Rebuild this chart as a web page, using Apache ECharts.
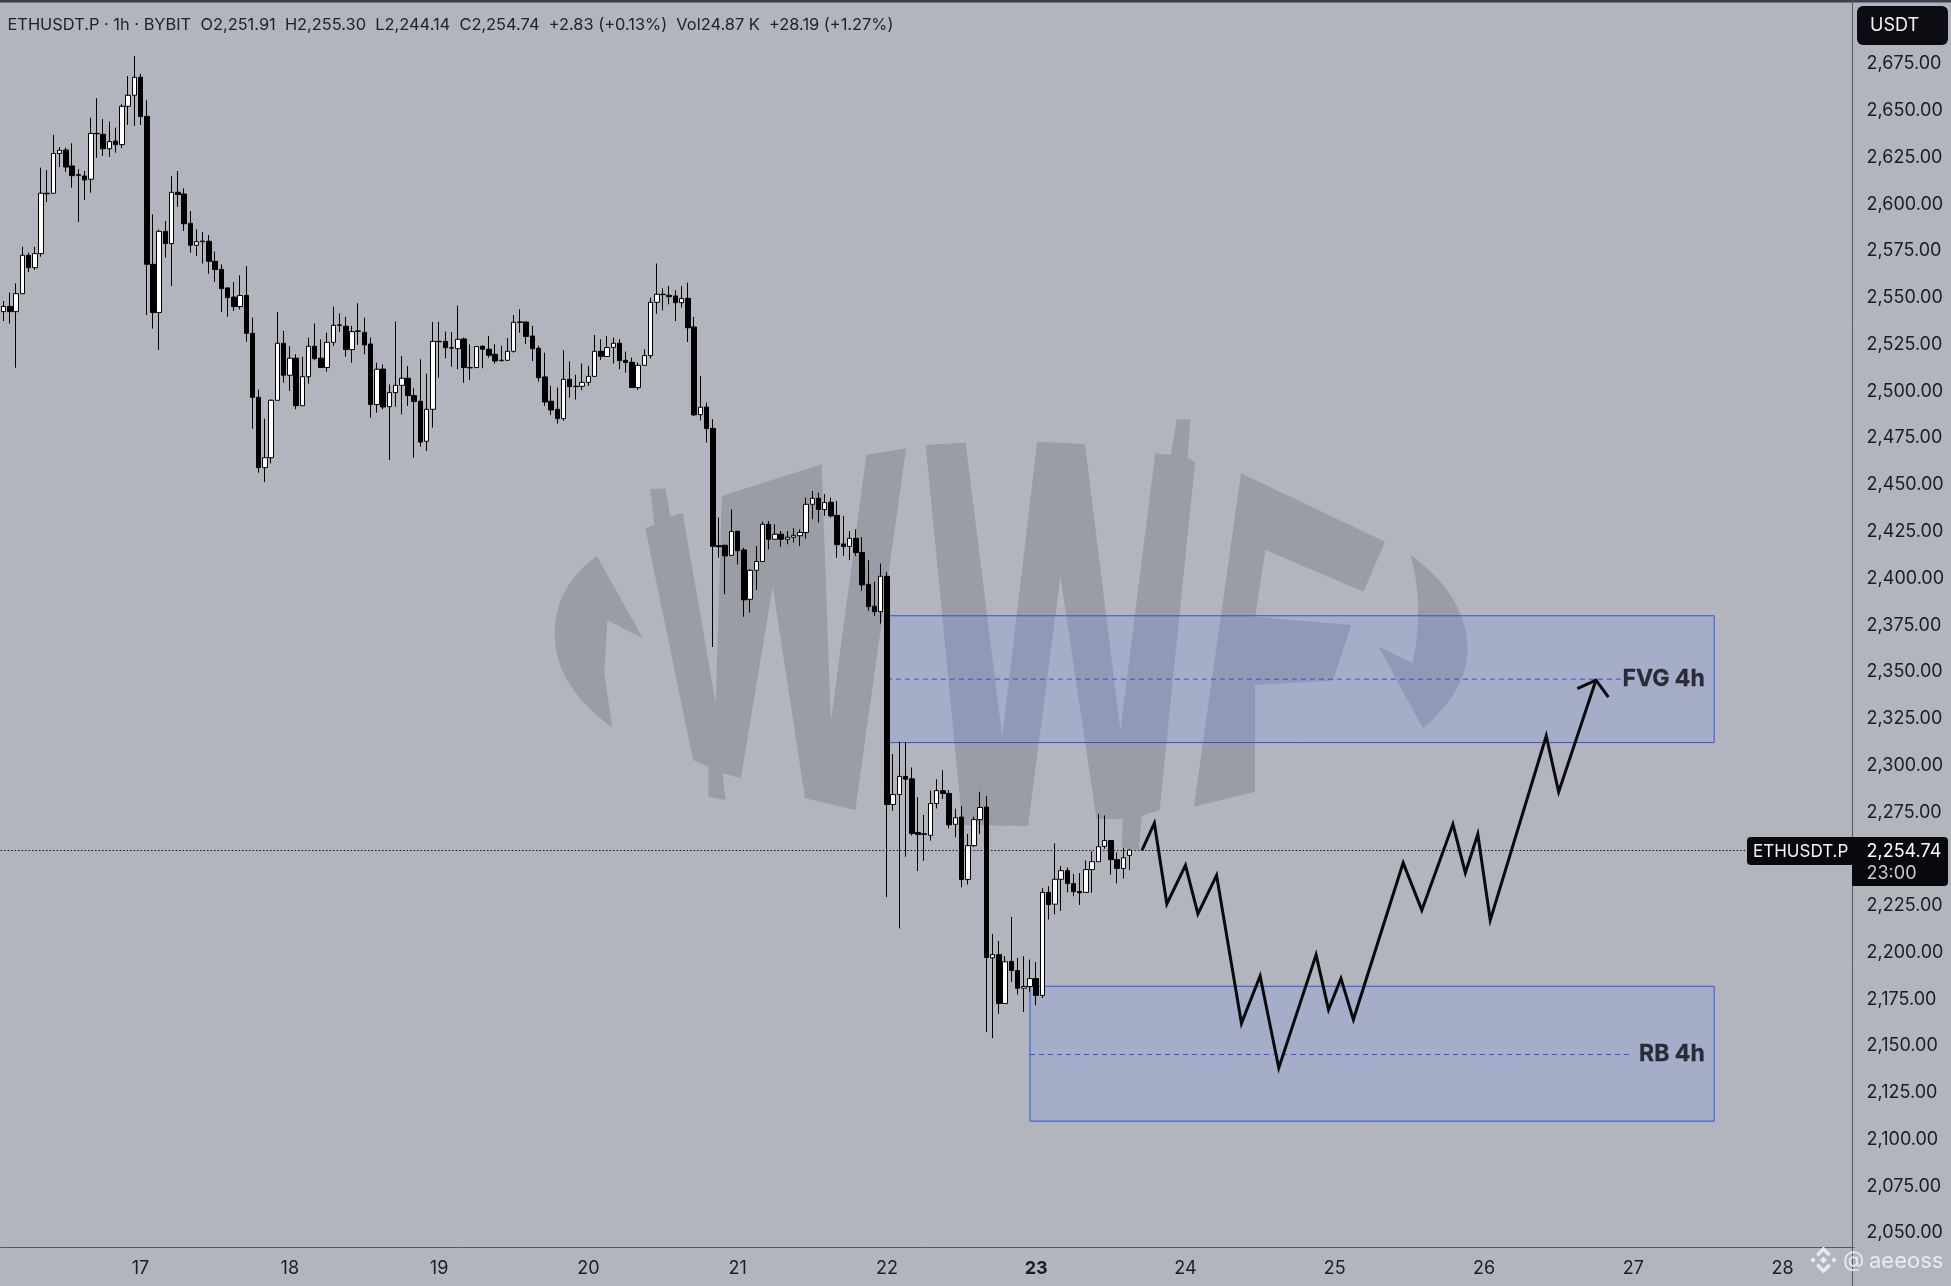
<!DOCTYPE html>
<html><head><meta charset="utf-8">
<style>html,body{margin:0;padding:0;background:#b2b5be}#c{width:1951px;height:1286px}</style>
<script src="https://cdn.jsdelivr.net/npm/echarts@6/dist/echarts.min.js"></script>
</head><body><div id="c"></div>
<script>
const opens=[2542.6,2545.4,2542.6,2552.2,2572.7,2566.1,2573.6,2605.9,2605.9,2627.1,
2629.0,2620.5,2615.8,2615.1,2613.4,2637.9,2637.4,2629.7,2633.8,2631.9,
2652.4,2658.3,2667.9,2647.0,2567.9,2542.1,2585.5,2579.0,2606.4,2605.5,
2589.8,2578.1,2580.3,2580.2,2569.5,2565.2,2555.3,2550.4,2545.3,2551.3,
2531.0,2496.8,2459.2,2464.5,2495.2,2525.7,2508.6,2517.7,2492.3,2507.8,
2524.1,2517.7,2512.7,2526.2,2535.5,2534.8,2522.3,2532.3,2531.5,2525.3,
2492.9,2511.9,2491.8,2499.3,2503.2,2507.0,2497.7,2494.7,2473.3,2490.4,
2526.7,2526.7,2523.3,2522.8,2528.0,2512.7,2512.7,2524.1,2522.5,2519.8,
2516.6,2516.6,2521.4,2537.1,2537.1,2529.6,2523.0,2507.7,2494.7,2490.4,
2485.4,2506.4,2502.7,2502.7,2504.8,2508.0,2521.4,2518.6,2523.5,2525.7,
2516.6,2515.5,2502.0,2513.9,2519.1,2547.6,2551.9,2551.3,2551.0,2547.4,
2549.7,2534.4,2487.5,2491.6,2480.2,2417.5,2417.7,2412.3,2425.2,2415.2,
2388.8,2404.3,2409.0,2428.9,2420.9,2423.6,2420.9,2422.0,2422.8,2424.5,
2439.6,2442.8,2436.8,2440.7,2433.7,2418.4,2417.1,2421.4,2413.8,2396.8,
2385.1,2382.2,2401.1,2279.1,2284.4,2294.1,2292.8,2264.1,2263.4,2262.6,
2279.6,2286.5,2285.0,2268.5,2272.4,2239.0,2257.1,2271.0,2277.7,2197.1,
2198.8,2172.7,2195.2,2190.3,2180.9,2181.8,2186.0,2177.0,2232.1,2225.8,
2239.1,2243.7,2236.8,2232.6,2232.1,2244.3,2248.5,2256.7,2259.8,2249.6,
2244.9,2251.91];
const closes=[2545.4,2542.6,2552.2,2572.7,2566.1,2573.6,2605.9,2605.6,2627.1,2628.9,
2619.9,2615.3,2615.5,2613.0,2637.9,2637.7,2629.7,2633.5,2631.9,2652.4,
2658.3,2667.9,2646.9,2567.9,2542.1,2585.5,2579.0,2606.4,2605.2,2589.6,
2578.1,2580.0,2580.0,2569.5,2565.1,2554.9,2550.1,2545.3,2551.2,2531.0,
2496.8,2459.2,2464.5,2495.2,2525.7,2508.6,2517.7,2492.3,2507.8,2524.1,
2517.5,2512.7,2526.2,2535.3,2535.3,2522.3,2531.9,2532.1,2524.8,2492.9,
2511.8,2491.6,2499.3,2503.2,2507.0,2497.7,2494.5,2472.9,2490.4,2526.7,
2526.5,2523.3,2523.1,2527.8,2512.7,2512.5,2523.9,2522.5,2519.3,2516.2,
2516.4,2521.4,2536.9,2536.9,2529.3,2522.8,2507.3,2494.3,2490.0,2485.4,
2506.4,2502.5,2502.5,2504.8,2508.0,2521.4,2518.7,2523.4,2525.7,2516.4,
2515.4,2502.0,2513.9,2519.1,2547.6,2551.9,2551.7,2550.6,2547.4,2549.6,
2534.0,2487.4,2491.5,2480.1,2417.1,2416.9,2412.0,2425.0,2414.8,2388.5,
2404.3,2409.0,2428.9,2420.9,2423.6,2420.9,2422.0,2423.0,2424.5,2439.6,
2442.8,2436.8,2440.5,2433.4,2418.0,2417.0,2421.4,2413.8,2396.5,2384.9,
2382.2,2401.1,2279.1,2284.4,2294.1,2292.6,2263.6,2263.0,2263.2,2279.6,
2286.5,2285.0,2268.2,2272.0,2239.0,2257.1,2271.0,2277.5,2197.3,2198.8,
2172.7,2195.0,2190.3,2180.9,2181.8,2186.0,2177.0,2232.1,2225.6,2239.1,
2243.7,2236.8,2232.5,2231.9,2244.3,2248.5,2256.5,2259.8,2249.6,2244.9,
2250.6,2254.74];
const lows=[2537.6,2536.2,2512.6,2552.2,2563.8,2564.9,2572.0,2601.2,2605.9,2619.9,
2617.3,2608.9,2590.5,2602.3,2606.2,2624.9,2625.8,2625.3,2627.6,2630.1,
2642.4,2641.9,2642.4,2540.8,2533.5,2522.1,2571.5,2556.3,2598.7,2585.7,
2574.1,2572.4,2568.3,2562.9,2558.5,2542.4,2539.9,2543.0,2543.8,2526.6,
2480.0,2456.5,2451.5,2461.5,2495.2,2504.6,2500.2,2490.4,2492.3,2504.1,
2516.6,2512.7,2510.5,2524.2,2531.7,2518.4,2515.3,2524.8,2519.8,2485.9,
2488.6,2490.4,2463.3,2491.8,2487.7,2492.2,2464.5,2470.4,2468.1,2480.6,
2507.3,2517.7,2513.2,2511.8,2504.6,2506.1,2512.7,2512.3,2518.0,2514.8,
2515.9,2516.2,2520.7,2531.4,2525.2,2516.2,2505.2,2492.2,2487.4,2482.7,
2484.2,2496.6,2495.6,2500.6,2502.9,2508.0,2516.8,2518.6,2514.8,2511.8,
2510.0,2502.0,2500.7,2513.9,2517.5,2541.5,2543.3,2546.5,2537.6,2544.8,
2526.4,2486.8,2484.5,2472.6,2363.3,2411.1,2391.5,2412.3,2407.5,2379.5,
2381.7,2393.8,2409.0,2415.5,2420.9,2416.8,2418.2,2419.1,2417.3,2421.2,
2431.6,2429.8,2433.4,2432.5,2411.1,2412.0,2409.8,2412.0,2393.2,2382.6,
2379.9,2375.8,2229.6,2275.8,2212.8,2251.2,2262.5,2243.5,2249.0,2259.8,
2277.0,2282.1,2266.3,2261.6,2234.8,2236.3,2256.3,2263.4,2157.4,2154.2,
2167.2,2172.7,2184.2,2177.5,2168.1,2179.0,2171.7,2175.6,2217.6,2220.4,
2222.3,2232.1,2230.0,2225.4,2232.1,2231.9,2248.5,2255.4,2241.6,2236.9,
2239.5,2244.14];
const highs=[2548.3,2552.8,2557.7,2577.2,2574.1,2577.2,2619.6,2618.3,2637.1,2630.6,
2630.3,2632.6,2618.7,2617.8,2646.3,2656.7,2645.6,2644.2,2641.0,2653.5,
2668.6,2679.3,2669.8,2655.6,2594.6,2586.6,2591.1,2615.1,2617.8,2608.5,
2596.4,2586.6,2585.2,2583.6,2574.7,2567.9,2555.3,2558.5,2562.0,2567.0,
2539.4,2500.9,2485.4,2495.7,2542.4,2532.3,2524.2,2519.8,2518.4,2528.7,
2536.2,2527.8,2531.4,2545.3,2541.7,2539.8,2535.0,2547.1,2539.4,2528.7,
2515.3,2514.4,2503.7,2537.3,2518.9,2513.5,2501.6,2517.1,2509.4,2537.1,
2537.1,2531.9,2531.7,2545.8,2528.7,2525.1,2523.9,2524.6,2529.6,2525.2,
2524.3,2528.4,2540.8,2543.9,2537.1,2535.0,2524.3,2520.7,2502.9,2502.0,
2521.9,2515.9,2508.8,2514.8,2513.6,2530.1,2527.8,2529.6,2528.7,2527.8,
2521.2,2518.0,2515.4,2522.5,2550.1,2568.3,2555.1,2556.3,2554.0,2556.3,
2558.1,2539.8,2508.2,2494.0,2485.1,2432.5,2417.7,2436.9,2425.2,2416.4,
2404.8,2417.3,2430.3,2430.7,2428.9,2425.3,2425.3,2426.8,2426.2,2443.2,
2446.7,2445.8,2445.0,2443.2,2441.4,2433.4,2425.3,2426.2,2422.1,2409.7,
2398.3,2407.9,2403.4,2306.0,2312.7,2312.3,2298.9,2283.0,2273.5,2286.5,
2292.6,2297.4,2286.9,2276.8,2278.3,2263.4,2272.6,2285.9,2283.6,2209.9,
2206.1,2198.0,2219.0,2197.1,2198.0,2196.2,2194.8,2234.4,2235.3,2258.4,
2246.2,2245.4,2242.0,2242.4,2249.2,2254.0,2274.1,2273.2,2260.1,2253.5,
2255.8,2255.30];
const priceTicks=[2050,2075,2100,2125,2150,2175,2200,2225,2250,2275,2300,2325,2350,2375,2400,2425,2450,2475,2500,2525,2550,2575,2600,2625,2650,2675];
const projectionIdx=[183,185,187,190,192,195,199,202,205,211,213,215,217,225,228,233,235,237,239,248,250,256];
const projectionPrice=[2254.5,2269.1,2225.9,2246.6,2220.6,2241.2,2162.1,2187.4,2138.2,2198.7,2169.4,2186.1,2164.1,2247.9,2222.6,2268.5,2242.6,2263.2,2217.3,2315.7,2285.8,2345.6];
const arrowIdx=[253,256,258];
const arrowPrice=[2341.0,2345.6,2336.5];
const fvgZone={from:142,to:275,top:2380,bottom:2312.2,mid:2346.1,midEnd:260,labelAt:273,label:'FVG 4h'};
const rbZone={from:165,to:275,top:2181.9,bottom:2109.8,mid:2145.4,midEnd:262,labelAt:273,label:'RB 4h'};
const lastPrice=2254.74;
const headerText='ETHUSDT.P · 1h · BYBIT  O2,251.91  H2,255.30  L2,244.14  C2,254.74  +2.83 (+0.13%)  Vol24.87 K  +28.19 (+1.27%)';

// hourly category axis: 02:00 on the 16th through the 28th
const categories=[];
for(let n=0;n<298;n++){const t=n+2;const d=16+Math.floor(t/24);categories.push(d+' '+String(t%24).padStart(2,'0'));}

const FONT='Inter, "Noto Sans", sans-serif';
const TXT='#1a1c26';
const z8=p=>[540+p[0]/1.6333,420+p[1]/3];
const curve=(a,c,b)=>{const r=[];for(let k=0;k<=14;k++){const t=k/14,u=1-t;r.push([u*u*a[0]+2*u*t*c[0]+t*t*b[0],u*u*a[1]+2*u*t*c[1]+t*t*b[1]]);}return r;};
const wmShapes=[
 [...curve([93,408],[24,500],[24,640]),...curve([24,640],[24,800],[118,922]),[105,760],[110,600],[168,655]],
 [[180,208],[205,205],[213,290],[233,278],[287,850],[297,228],[460,133],[475,905],[533,105],[598,85],[515,1170],[433,1135],[380,500],[328,1075],[298,1060],[303,1140],[275,1130],[275,1040],[250,1020],[172,325],[187,315]],
 [[630,75],[695,68],[755,950],[812,65],[890,72],[948,930],[1005,100],[1030,105],[1040,-2],[1062,-2],[1058,115],[1070,125],[1012,1170],[983,1187],[978,1290],[950,1284],[952,1197],[909,1197],[850,470],[797,1218],[690,1215]],
 [[1145,160],[1380,365],[1345,515],[1185,390],[1168,590],[1325,615],[1295,782],[1168,795],[1168,1115],[1068,1160]],
 [...curve([1422,405],[1515,530],[1515,690]),...curve([1515,690],[1515,810],[1442,925]),[1370,680],[1425,730],...curve([1425,730],[1445,560],[1422,405])]
];
const graphics=wmShapes.map(s=>({type:'polygon',z:0,silent:true,shape:{points:s.map(z8)},style:{fill:'#9a9da6'}}));
const LOGO='#e9eaee';
const logo=[
 [[1823.5,1246.5],[1831,1254],[1828.5,1256.5],[1823.5,1251.5],[1818.5,1256.5],[1816,1254]],
 [[1823.5,1273.5],[1831,1266],[1828.5,1263.5],[1823.5,1268.5],[1818.5,1263.5],[1816,1266]],
 [[1823.5,1256.5],[1827,1260],[1823.5,1263.5],[1820,1260]],
 [[1813,1257.3],[1815.7,1260],[1813,1262.7],[1810.3,1260]],
 [[1834,1257.3],[1836.7,1260],[1834,1262.7],[1831.3,1260]]
];
logo.forEach(s=>graphics.push({type:'polygon',z:200,silent:true,shape:{points:s},style:{fill:LOGO}}));
const txt=(x,y,t,o)=>({type:'text',z:200,silent:true,x,y,style:Object.assign({text:t,font:'400 18px '+FONT,fill:TXT,align:'left',verticalAlign:'middle'},o||{})});
graphics.push(
 {type:'rect',z:150,silent:true,shape:{x:0,y:0,width:1951,height:2.5},style:{fill:'#3c4050'}},
 {type:'line',z:150,silent:true,shape:{x1:1852.5,y1:0,x2:1852.5,y2:1286},style:{stroke:'#55585f',lineWidth:1}},
 {type:'rect',z:180,silent:true,shape:{x:1857,y:6,width:91,height:39,r:6},style:{fill:'#0c0d12'}},
 txt(1870,26,'USDT',{fill:'#f4f4f6'}),
 {type:'rect',z:180,silent:true,shape:{x:1747,y:837,width:105,height:28,r:[4,0,0,4]},style:{fill:'#08090c'}},
 {type:'rect',z:180,silent:true,shape:{x:1852,y:837,width:96,height:49,r:[0,4,4,0]},style:{fill:'#08090c'}},
 txt(1753,851.5,'ETHUSDT.P',{fill:'#f4f4f6',font:'400 17px '+FONT}),
 txt(1866.5,851.5,'2,254.74',{fill:'#ffffff'}),
 txt(1866.5,874,'23:00',{fill:'#c8c9cf'}),
 txt(7.5,25.5,headerText,{font:'400 16.4px '+FONT,fill:'#20222c'}),
 txt(1843,1260,'@',{fill:LOGO,font:'400 22px '+FONT}),
 txt(1869,1261,'aeeoss',{fill:LOGO,font:'400 22px '+FONT})
);

const zoneSeries=z=>[{
  type:'line',data:[[z.from,z.mid],[z.midEnd,z.mid]],symbol:'none',silent:true,z:1,
  lineStyle:{color:'#2f55d4',width:1,type:[5,4]},
  markArea:{silent:true,z:1,itemStyle:{color:'rgba(103,136,255,0.18)',borderColor:'#2f55d4',borderWidth:1},
    data:[[{xAxis:categories[z.from],yAxis:z.top},{xAxis:categories[z.to],yAxis:z.bottom}]]}
},{
  type:'scatter',data:[[z.labelAt,z.mid]],symbolSize:0,silent:true,z:6,
  label:{show:true,position:'inside',offset:[3,0],formatter:z.label,align:'right',verticalAlign:'middle',color:'#0c0d12',fontFamily:FONT,fontWeight:700,fontSize:23,textBorderColor:'#0c0d12',textBorderWidth:0.3}
}];

const chart=echarts.init(document.getElementById('c'),null,{renderer:'canvas'});
chart.setOption({
 animation:false,backgroundColor:'#b2b5be',
 grid:{left:0.6,right:96.9,top:4,bottom:39,containLabel:false},
 xAxis:{type:'category',data:categories,boundaryGap:true,
   axisLine:{show:true,lineStyle:{color:'#55585f',width:1}},axisTick:{show:false},splitLine:{show:false},
   axisLabel:{interval:(i,v)=>v.endsWith(' 00'),margin:13,color:TXT,fontFamily:FONT,fontSize:18,
     formatter:v=>{const d=v.split(' ')[0];return d==='23'?'{b|'+d+'}':d;},rich:{b:{fontWeight:700,fontSize:18,color:TXT,fontFamily:FONT}}}},
 yAxis:{type:'value',position:'right',min:2042.5,max:2707.08,scale:true,
   axisLine:{show:false},axisTick:{show:false},splitLine:{show:false},
   axisLabel:{customValues:priceTicks,margin:12.5,color:TXT,fontFamily:FONT,fontSize:18,
     formatter:v=>Number(v).toLocaleString('en-US',{minimumFractionDigits:2,maximumFractionDigits:2})}},
 graphic:{elements:graphics},
 series:[
  ...zoneSeries(fvgZone),...zoneSeries(rbZone),
  {type:'candlestick',z:3,barWidth:5,silent:true,
   data:opens.map((o,i)=>[o,closes[i],lows[i],highs[i]]),
   itemStyle:{color:'#ffffff',color0:'#000000',borderColor:'#000000',borderColor0:'#000000',borderWidth:1},
   markLine:{silent:true,symbol:'none',label:{show:false},z:2,lineStyle:{color:'#111318',width:1,type:[1.5,2]},data:[{yAxis:lastPrice}]}},
  {type:'line',z:5,silent:true,symbol:'none',data:projectionIdx.map((x,i)=>[x,projectionPrice[i]]),lineStyle:{color:'#0a0a0c',width:3,join:'miter'}},
  {type:'line',z:5,silent:true,symbol:'none',data:arrowIdx.map((x,i)=>[x,arrowPrice[i]]),lineStyle:{color:'#0a0a0c',width:3,join:'miter'}}
 ]
});
</script></body></html>
